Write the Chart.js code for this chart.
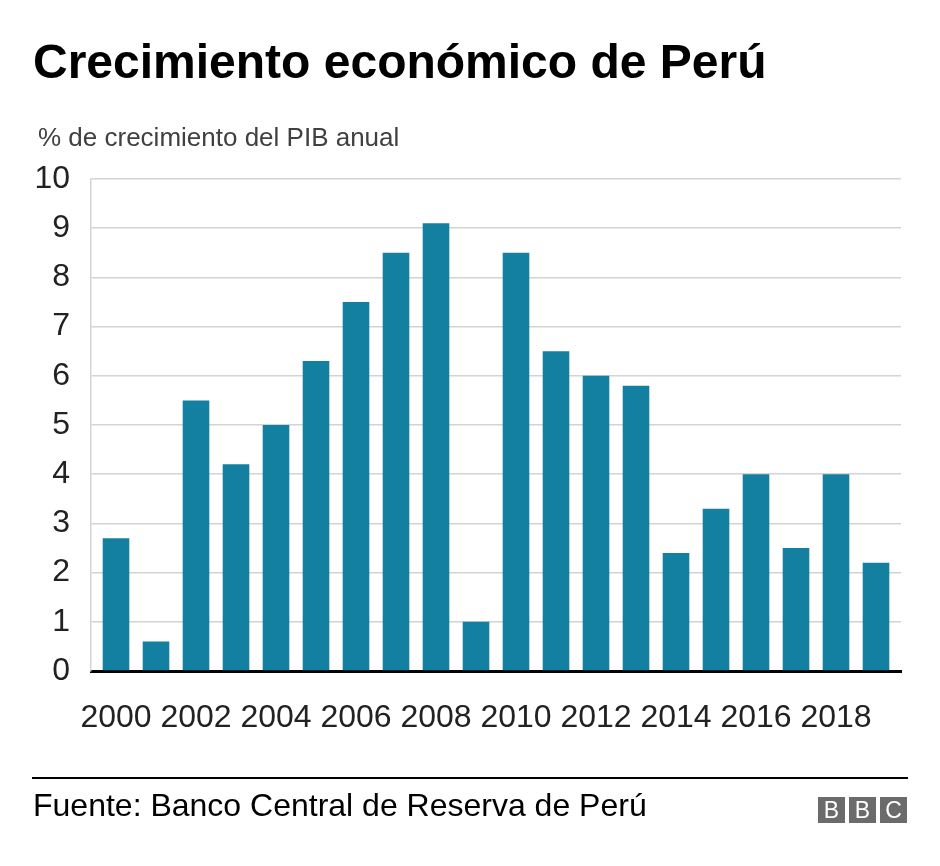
<!DOCTYPE html>
<html>
<head>
<meta charset="utf-8">
<script src="https://cdn.jsdelivr.net/npm/chart.js@4.4.1/dist/chart.umd.min.js"></script>
<style>
    body { margin: 0; background: #fff; font-family: "Liberation Sans", Arial, sans-serif; }
    #wrap { position: relative; width: 940px; height: 866px; overflow: hidden; }
    #chart { position: absolute; left: 0; top: 0; }
    .txt { position: absolute; white-space: nowrap; line-height: 1; }
    #title { left: 33px; top: 38px; font-size: 48px; font-weight: bold; color: #000; }
    #subtitle { left: 38px; top: 124px; font-size: 26px; color: #404040; }
    #rule { position: absolute; left: 32px; top: 777px; width: 876px; height: 2px; background: #000; }
    #source { left: 33px; top: 789px; font-size: 32px; color: #000; }
    #bbc { position: absolute; left: 818px; top: 797px; display: flex; gap: 4px; }
    #bbc div { width: 27px; height: 26px; background: #6b6b6b; color: #fff;
               font-size: 23px; line-height: 27px; text-align: center; }
</style>
</head>
<body>
<div id="wrap">
    <canvas id="chart" width="940" height="866"></canvas>
    <div class="txt" id="title">Crecimiento económico de Perú</div>
    <div class="txt" id="subtitle">% de crecimiento del PIB anual</div>
    <div id="rule"></div>
    <div class="txt" id="source">Fuente: Banco Central de Reserva de Perú</div>
    <div id="bbc"><div>B</div><div>B</div><div>C</div></div>
</div>
<script>
const years = [2000, 2001, 2002, 2003, 2004, 2005, 2006, 2007, 2008, 2009,
    2010, 2011, 2012, 2013, 2014, 2015, 2016, 2017, 2018, 2019];
const growth = [2.7, 0.6, 5.5, 4.2, 5.0, 6.3, 7.5, 8.5, 9.1, 1.0,
    8.5, 6.5, 6.0, 5.8, 2.4, 3.3, 4.0, 2.5, 4.0, 2.2];
const yTicks = [0, 1, 2, 3, 4, 5, 6, 7, 8, 9, 10];

const tickFont = { family: '"Liberation Sans", Arial, sans-serif', size: 32 };

const ctx = document.getElementById('chart').getContext('2d');
const chart = new Chart(ctx, {
    type: 'bar',
    data: {
        datasets: [{
            label: '% de crecimiento del PIB anual',
            data: years.map((y, i) => ({ x: y, y: growth[i] })),
            backgroundColor: '#1380A1',
            borderWidth: 0,
            categoryPercentage: 1,
            barPercentage: 0.665
        }]
    },
    options: {
        responsive: false,
        animation: false,
        layout: {
            padding: { left: 0, top: 179, right: 39, bottom: 135 }
        },
        plugins: {
            legend: { display: false },
            tooltip: { enabled: false }
        },
        scales: {
            x: {
                type: 'linear',
                offset: false,
                min: years[0] - 0.625,
                max: years[years.length - 1] + 0.625,
                grid: { display: false, drawTicks: false },
                border: { display: true, color: '#000', width: 3 },
                ticks: {
                    stepSize: 2,
                    includeBounds: false,
                    padding: 28,
                    color: '#222',
                    font: tickFont,
                    maxRotation: 0,
                    autoSkip: false,
                    callback: (v) => String(v)
                },
                afterFit: (scale) => { scale.height = 60; }
            },
            y: {
                min: 0,
                max: 10,
                afterBuildTicks: (scale) => {
                    scale.ticks = yTicks.map(v => ({ value: v }));
                },
                grid: { color: '#d4d4d4', lineWidth: 1.5, drawTicks: false },
                border: { display: true, color: '#d4d4d4', width: 1.5 },
                ticks: {
                    padding: 21,
                    color: '#222',
                    font: tickFont
                },
                afterFit: (scale) => { scale.width = 91; }
            }
        }
    }
});
</script>
</body>
</html>
